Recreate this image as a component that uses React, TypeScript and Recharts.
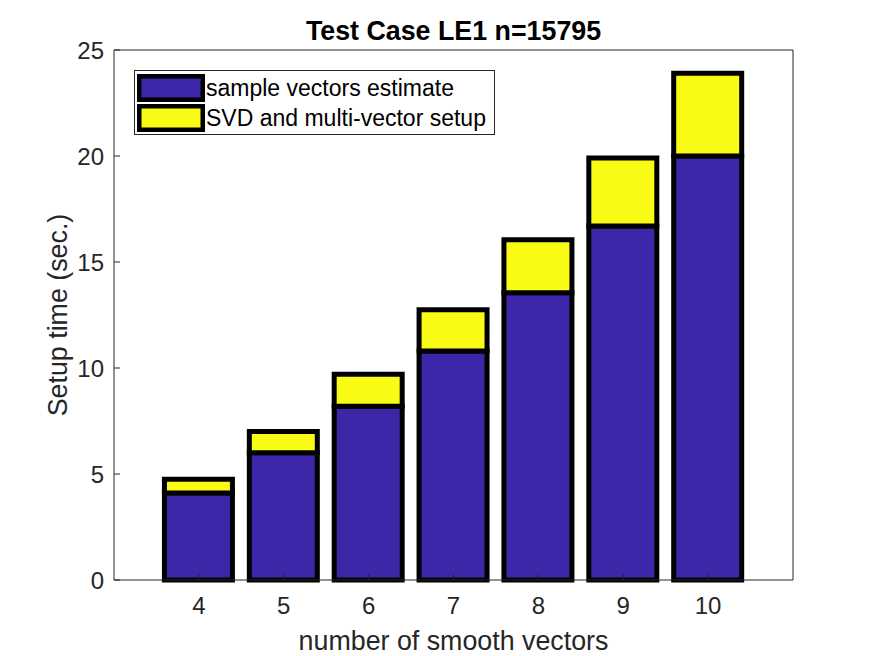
import React from "react";
import { BarChart, Bar, XAxis, YAxis, Legend } from "recharts";

// number of smooth vectors on the x axis
const smoothVectors = [4, 5, 6, 7, 8, 9, 10];
// setup time parts (sec.)
const sampleEstimate = [4.1, 6.0, 8.2, 10.8, 13.55, 16.7, 20.0];
const svdSetup = [0.65, 1.0, 1.5, 1.95, 2.5, 3.2, 3.9];
const yTicks = [0, 5, 10, 15, 20, 25];
const seriesNames = ["sample vectors estimate", "SVD and multi-vector setup"];

const data = smoothVectors.map((n, i) => ({
    n,
    sample: sampleEstimate[i],
    svd: svdSetup[i],
}));

const axisColor = "#262626";
const font = "'Liberation Sans', Arial, sans-serif";

const renderLegend = (props: any) => {
    // recharts lists stacked bars top-first, matlab keeps plot order
    const items = [...(props.payload || [])].sort(
        (a: any, b: any) => seriesNames.indexOf(a.value) - seriesNames.indexOf(b.value)
    );
    return (
        <div
            style={{
                boxSizing: "border-box",
                width: 361,
                height: 65,
                border: `1px solid ${axisColor}`,
                background: "#fff",
                paddingTop: 2,
                paddingLeft: 2,
            }}
        >
            {items.map((entry: any) => (
                <div
                    key={entry.value}
                    style={{ display: "flex", alignItems: "center", height: 30 }}
                >
                    <svg width={68} height={28} style={{ display: "block" }}>
                        <rect
                            x={2.25}
                            y={2.25}
                            width={63.5}
                            height={23.5}
                            fill={entry.color}
                            stroke="#000"
                            strokeWidth={4.5}
                        />
                    </svg>
                    <span style={{ fontSize: 23, color: "#000", marginLeft: 1, lineHeight: "28px" }}>
                        {entry.value}
                    </span>
                </div>
            ))}
        </div>
    );
};

export default function App() {
    return (
        <div style={{ width: 875, height: 656, background: "#fff" }}>
            <style>{"body{margin:0;background:#fff}"}</style>
            <BarChart
                width={875}
                height={656}
                data={data}
                margin={{ top: 49, right: 81, left: 0, bottom: 0 }}
                style={{ fontFamily: font }}
            >
                <XAxis
                    xAxisId="b"
                    dataKey="n"
                    type="number"
                    domain={[3, 11]}
                    ticks={smoothVectors}
                    height={76}
                    stroke={axisColor}
                    tickSize={-6}
                    tickMargin={23}
                    tick={{ fontSize: 24, fill: axisColor }}
                    label={{
                        value: "number of smooth vectors",
                        position: "insideBottom",
                        offset: 6,
                        fontSize: 26.8,
                        fill: axisColor,
                    }}
                />
                <XAxis
                    xAxisId="t"
                    orientation="top"
                    type="number"
                    domain={[3, 11]}
                    ticks={smoothVectors}
                    height={1}
                    stroke={axisColor}
                    tickSize={-6}
                    tick={false}
                    label={{
                        value: "Test Case LE1 n=15795",
                        position: "top",
                        offset: 9.5,
                        fontSize: 26.8,
                        fontWeight: "bold",
                        fill: "#000",
                    }}
                />
                <YAxis
                    yAxisId="l"
                    type="number"
                    domain={[0, 25]}
                    ticks={yTicks}
                    width={114}
                    stroke={axisColor}
                    tickSize={-6}
                    tickMargin={16}
                    tick={{ fontSize: 24, fill: axisColor }}
                    label={{
                        value: "Setup time (sec.)",
                        angle: -90,
                        position: "center",
                        fontSize: 26.8,
                        fill: axisColor,
                    }}
                />
                <YAxis
                    yAxisId="r"
                    orientation="right"
                    type="number"
                    domain={[0, 25]}
                    ticks={yTicks}
                    width={1}
                    stroke={axisColor}
                    tickSize={-6}
                    tick={false}
                />
                <Legend
                    layout="vertical"
                    align="center"
                    verticalAlign="middle"
                    content={renderLegend}
                    wrapperStyle={{ left: 134, top: 70, width: 361, height: 65 }}
                />
                <Bar
                    xAxisId="b"
                    yAxisId="l"
                    dataKey="sample"
                    name={seriesNames[0]}
                    stackId="a"
                    fill="#3E26A8"
                    stroke="#000"
                    strokeWidth={5}
                    barSize={68}
                    isAnimationActive={false}
                />
                <Bar
                    xAxisId="b"
                    yAxisId="l"
                    dataKey="svd"
                    name={seriesNames[1]}
                    stackId="a"
                    fill="#F9FB15"
                    stroke="#000"
                    strokeWidth={5}
                    barSize={68}
                    isAnimationActive={false}
                />
            </BarChart>
        </div>
    );
}
